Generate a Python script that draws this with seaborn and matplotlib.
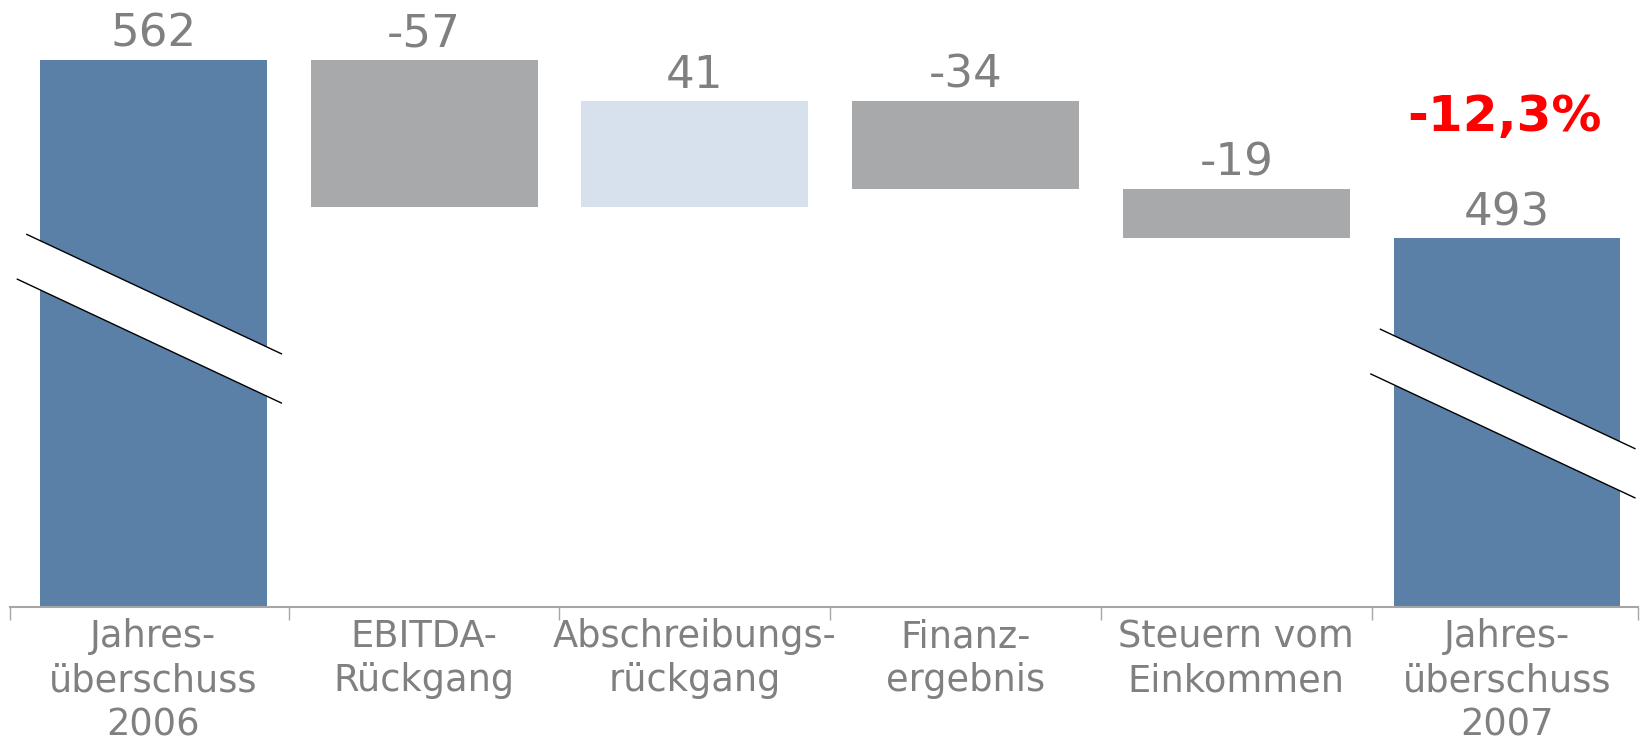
import numpy as np
import pandas as pd
import matplotlib
matplotlib.use("Agg")
import matplotlib.pyplot as plt
import seaborn as sns

# categories and values (waterfall, EUR m)
categories = ["Jahres-\nüberschuss\n2006", "EBITDA-\nRückgang", "Abschreibungs-\nrückgang",
              "Finanz-\nergebnis", "Steuern vom\nEinkommen", "Jahres-\nüberschuss\n2007"]
values = [562, -57, 41, -34, -19, 493]
kinds = ["total", "delta", "delta", "delta", "delta", "total"]
value_labels = ["562", "-57", "41", "-34", "-19", "493"]

COL_TOTAL = "#5B80A8"
COL_NEG = "#A8A9AB"
COL_POS = "#D7E1ED"
TXT_GREY = "#808080"

# waterfall geometry from the values
bottoms, heights, tops, colors = [], [], [], []
level = 0
for v, k in zip(values, kinds):
    if k == "total":
        bottoms.append(0)
        heights.append(v)
        tops.append(v)
        level = v
        colors.append(COL_TOTAL)
    else:
        new = level + v
        bottoms.append(min(level, new))
        heights.append(abs(v))
        tops.append(max(level, new))
        colors.append(COL_NEG if v < 0 else COL_POS)
        level = new

pct = (values[-1] - values[0]) / values[0] * 100
pct_label = ("%.1f%%" % pct).replace(".", ",")

df = pd.DataFrame({"cat": categories, "height": heights})

sns.set_theme(style="white")
plt.rcParams["font.family"] = ["DejaVu Sans"]

fig = plt.figure(figsize=(16.41, 7.44), dpi=100)
ax = fig.add_axes([10.5 / 1641, 137 / 744, 1627.5 / 1641, 607 / 744])

sns.barplot(data=df, x="cat", y="height", bottom=bottoms, width=0.838,
            errorbar=None, color=COL_TOTAL, ax=ax, zorder=2)
for p, c in zip(ax.patches, colors):
    p.set_facecolor(c)
    p.set_edgecolor("none")

ax.set_xlim(-0.528, 5.484)
ax.set_ylim(350.7, 585)

# value labels above bars
for i, (t, lab) in enumerate(zip(tops, value_labels)):
    ax.annotate(lab, (i, t), xytext=(0, 9.5), textcoords="offset points",
                ha="center", va="baseline", fontsize=32.5, color=TXT_GREY)

ax.annotate(pct_label, (5, tops[-1]), xytext=(-1.5, 77), textcoords="offset points",
            ha="center", va="baseline", fontsize=36, fontweight="bold", color="#FF0000")

# axis break marks on the two total bars
slope = -49.0
gap = 19.0
for i, mid in [(0, 471.6), (5, 435.0)]:
    xu = np.array([i - 0.47, i + 0.475])
    xl = np.array([i - 0.505, i + 0.475])
    yu = mid + slope * (xu - i)
    yl = mid - gap + slope * (xl - i)
    poly_x = [xu[0], xu[1], xl[1], xl[0]]
    poly_y = [yu[0], yu[1], yl[1], yl[0]]
    ax.fill(poly_x, poly_y, color="white", zorder=3, lw=0)
    ax.plot(xu, yu, color="black", lw=1.0, zorder=4, solid_capstyle="butt")
    ax.plot(xl, yl, color="black", lw=1.0, zorder=4, solid_capstyle="butt")

# axes styling
for s in ["left", "top", "right"]:
    ax.spines[s].set_visible(False)
ax.spines["bottom"].set_color("#A6A6A6")
ax.spines["bottom"].set_linewidth(1.5)
ax.set_yticks([])
ax.set_xlabel("")
ax.set_ylabel("")

ax.set_xticks(range(len(categories)))
ax.set_xticklabels(categories, fontsize=26.5, color=TXT_GREY, linespacing=1.24)
ax.tick_params(axis="x", which="major", length=0, pad=8)
ax.set_xticks([-0.528, 0.5, 1.5, 2.5, 3.5, 4.5, 5.484], minor=True)
ax.tick_params(axis="x", which="minor", bottom=True, length=9, width=1,
               color="#A6A6A6", direction="out")
ax.grid(False)

fig.savefig("out.png", dpi=100)
